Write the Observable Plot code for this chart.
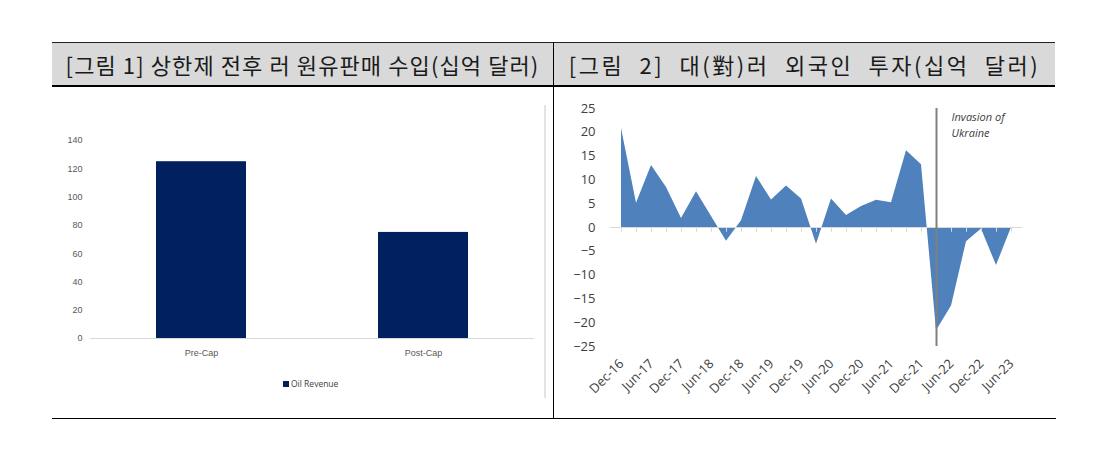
<!DOCTYPE html>
<html><head><meta charset="utf-8">
<script src="https://cdn.jsdelivr.net/npm/d3@7"></script>
<script src="https://cdn.jsdelivr.net/npm/@observablehq/plot@0.6"></script>
<style>
body{margin:0;background:#fff;width:1095px;height:473px;overflow:hidden;position:relative;font-family:"Noto Sans CJK KR",sans-serif;}
.abs{position:absolute;}
#hdr{left:52px;top:42px;width:1003px;height:42px;background:#d9d9d9;border-top:1px solid #222;border-bottom:2px solid #000;}
.ttl{top:43px;height:42px;line-height:42px;width:501px;text-align:center;font-size:22px;color:#1a1a1a;white-space:nowrap;}
#div{left:553px;top:42px;width:1px;height:377px;background:#000;}
#bot{left:52px;top:418px;width:1004px;height:1px;background:#000;}
#frame{left:544px;top:105px;width:2px;height:293px;background:#e3e3e3;}
#legend{left:283px;top:378px;font-family:"Open Sans","Noto Sans",sans-serif;font-size:8.5px;color:#404040;display:flex;align-items:center;gap:2px;}
#legend span.sw{display:inline-block;width:6px;height:6px;background:#002060;}
</style></head>
<body>
<div id="hdr" class="abs"></div>
<div class="abs ttl" style="left:52px;letter-spacing:1.1px">[그림 1] 상한제 전후 러 원유판매 수입(십억 달러)</div>
<div class="abs ttl" style="left:554px;letter-spacing:2.5px;word-spacing:8px">[그림 2] 대(對)러 외국인 투자(십억 달러)</div>
<div id="div" class="abs"></div>
<div id="bot" class="abs"></div>
<div id="frame" class="abs"></div>
<div id="left" class="abs" style="left:52px;top:88px"></div>
<div id="right" class="abs" style="left:555px;top:88px"></div>
<div id="legend" class="abs"><span class="sw"></span><span>Oil Revenue</span></div>
<script>
// ---- Figure 1 data ----
const capCategories = ["Pre-Cap", "Post-Cap"];
const oilRevenue = [125, 75];
const yTicks1 = [0, 20, 40, 60, 80, 100, 120, 140];

// ---- Figure 2 data ----
const quarters = ["Dec-16","Mar-17","Jun-17","Sep-17","Dec-17","Mar-18","Jun-18","Sep-18","Dec-18",
  "Mar-19","Jun-19","Sep-19","Dec-19","Mar-20","Jun-20","Sep-20","Dec-20","Mar-21","Jun-21",
  "Sep-21","Dec-21","Mar-22","Jun-22","Sep-22","Dec-22","Mar-23","Jun-23"];
const investment = [20.8, 5.1, 13.0, 8.4, 1.9, 7.5, 2.3, -2.9, 1.4,
  10.7, 5.8, 8.7, 6.0, -3.5, 6.0, 2.5, 4.4, 5.7, 5.2,
  16.1, 13.2, -21.7, -16.5, -3.0, -0.3, -8.0, 0];
const xTickLabels = ["Dec-16","Jun-17","Dec-17","Jun-18","Dec-18","Jun-19","Dec-19","Jun-20",
  "Dec-20","Jun-21","Dec-21","Jun-22","Dec-22","Jun-23"];
const yTicks2 = [-25, -20, -15, -10, -5, 0, 5, 10, 15, 20, 25];
const invasionQuarter = "Mar-22";
const invasionLabel = "Invasion of\nUkraine";

const rows1 = capCategories.map((c, i) => ({cat: c, value: oilRevenue[i]}));
const rows2 = quarters.map((q, i) => ({q, v: investment[i]}));

const p1 = Plot.plot({
  width: 500, height: 330,
  marginTop: 52, marginBottom: 80, marginLeft: 38, marginRight: 18,
  style: {fontFamily: '"Liberation Sans Narrow","Arial Narrow","Liberation Sans",sans-serif', fontSize: "9px", color: "#595959", background: "transparent"},
  x: {domain: capCategories, paddingInner: 0.595, paddingOuter: 0.2975, label: null, tickSize: 0, tickPadding: 11},
  y: {domain: [0, 140], ticks: yTicks1, label: null, tickSize: 0, tickPadding: 8},
  marks: [
    Plot.barY(rows1, {x: "cat", y: "value", fill: "#002060"}),
    Plot.ruleY([0], {stroke: "#d9d9d9"})
  ]
});
document.getElementById("left").appendChild(p1);

const p2 = Plot.plot({
  width: 500, height: 330,
  marginTop: 20, marginBottom: 72, marginLeft: 62, marginRight: 40,
  style: {fontFamily: '"Open Sans","Noto Sans",sans-serif', fontSize: "13px", color: "#404040", background: "transparent"},
  x: {type: "point", domain: quarters, padding: 0, label: null, tickSize: 0, tickPadding: 15, tickRotate: -45, ticks: xTickLabels},
  y: {domain: [-25, 25], ticks: yTicks2, label: null, tickSize: 0, tickPadding: 22},
  marks: [
    Plot.areaY(rows2, {x: "q", y: "v", fill: "#4f81bd"}),
    Plot.ruleY([0], {stroke: "#d9d9d9", insetLeft: -7, insetRight: -7}),
    Plot.ruleX(quarters, {x: d => d, y1: 0, y2: -1, stroke: "#d9d9d9"}),
    Plot.ruleX([invasionQuarter], {x: d => d, y1: -25, y2: 25, stroke: "#7f7f7f", strokeWidth: 2}),
    Plot.text([invasionLabel], {x: () => invasionQuarter, y: () => 25, text: d => d, textAnchor: "start", lineAnchor: "top", dx: 15, dy: 1,
      fontStyle: "italic", fontSize: 11, lineHeight: 1.45, fill: "#404040"})
  ]
});
document.getElementById("right").appendChild(p2);
</script>
</body></html>
